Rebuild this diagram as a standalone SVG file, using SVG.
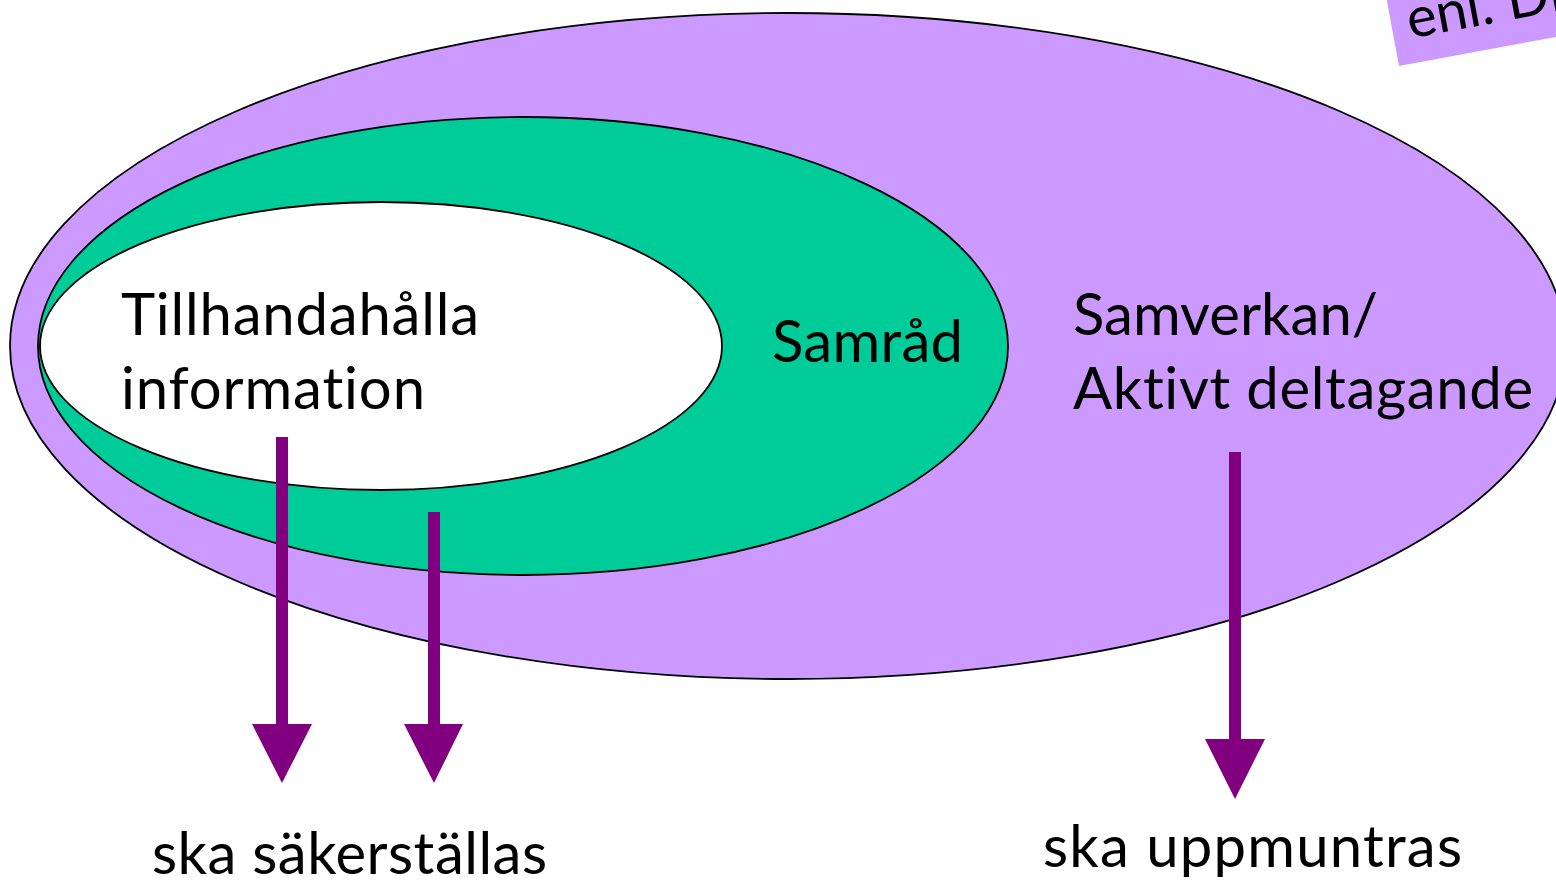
<svg xmlns="http://www.w3.org/2000/svg" width="1556" height="881" viewBox="0 0 1556 881">
  <style>
    text { font-variant-ligatures: none; font-feature-settings: "liga" 0, "clig" 0; }
    .lbl { font-family: Lato, "Open Sans", "Liberation Sans", sans-serif; font-size: 58px; fill: #000; }
    .ell { stroke: #000; stroke-width: 1.8; }
    .arrow { fill: #800080; }
  </style>
  <rect x="0" y="0" width="1556" height="881" fill="#ffffff"/>
  <g id="note">
    <g transform="translate(1399,66) rotate(-10.5)">
      <rect x="0" y="-120" width="320" height="120" fill="#cc99ff"/>
      <text x="16" y="-25" style="font-family: Lato, 'Liberation Sans', sans-serif; font-size: 56px; fill:#000">enl. Di</text>
    </g>
  </g>
  <g id="node-samverkan">
    <ellipse class="ell" cx="788" cy="346" rx="778" ry="333" fill="#cc99ff"/>
    <text class="lbl" x="1073" y="335" textLength="305">Samverkan/</text>
    <text class="lbl" x="1073" y="409" textLength="460">Aktivt deltagande</text>
  </g>
  <g id="node-samrad">
    <ellipse class="ell" cx="523" cy="346" rx="485" ry="229" fill="#00cc99"/>
    <text class="lbl" x="772" y="362" textLength="191">Samråd</text>
  </g>
  <g id="node-information">
    <ellipse class="ell" cx="381" cy="346" rx="341" ry="144" fill="#ffffff"/>
    <text class="lbl" x="121" y="335" textLength="358">Tillhandahålla</text>
    <text class="lbl" x="121" y="409" textLength="304">information</text>
  </g>
  <g id="connectors">
    <polygon class="arrow" points="276,437 288,437 288,724 312,724 282,783 252,724 276,724"/>
    <polygon class="arrow" points="428,512 440,512 440,724 463,724 434,783 404,724 428,724"/>
    <polygon class="arrow" points="1229,452 1241,452 1241,739 1265,739 1235,799 1205,739 1229,739"/>
  </g>
  <g id="labels">
    <text class="lbl" x="152" y="874" textLength="395">ska säkerställas</text>
    <text class="lbl" x="1043" y="867" textLength="419">ska uppmuntras</text>
  </g>
</svg>
